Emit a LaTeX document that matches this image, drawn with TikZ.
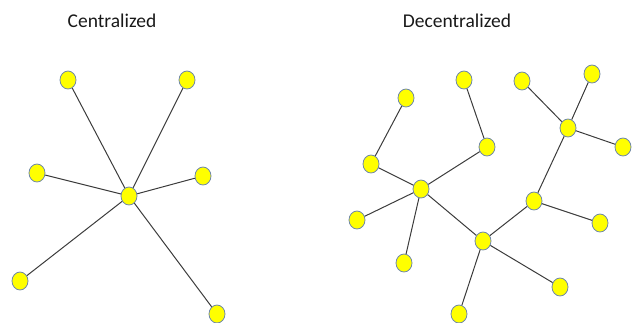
\documentclass[tikz,border=0pt]{standalone}
\usepackage{fontspec}
\setmainfont{Carlito}
\usetikzlibrary{shapes.geometric}
\definecolor{nodeyellow}{RGB}{255,255,0}
\definecolor{nodeedge}{RGB}{110,135,170}
\definecolor{linkgray}{RGB}{60,60,60}
\tikzset{
  peer/.style={ellipse, draw=nodeedge, line width=0.8pt, fill=nodeyellow, minimum width=16pt, minimum height=18pt, inner sep=0pt},
  link/.style={draw=linkgray, line width=1pt},
  heading/.style={font=\fontsize{19.5pt}{22pt}\selectfont, text=black!90}
}
\begin{document}
\begin{tikzpicture}[x=1pt,y=-1pt]
\useasboundingbox (0,0) rectangle (632,322);
\node[heading] (t1) at (112,21) {Centralized};
\node[heading] (t2) at (457,21) {Decentralized};
% centralized
\coordinate (cc) at (129,196);
\node[peer] (c1) at (68,80) {};
\node[peer] (c2) at (187,80) {};
\node[peer] (c3) at (37,173) {};
\node[peer] (c4) at (203,176) {};
\node[peer] (c5) at (20,281) {};
\node[peer] (c6) at (217,314) {};
\foreach \n in {c1,c2,c3,c4,c5,c6} \draw[link] (cc) -- (\n);
\node[peer] (c0) at (cc) {};
% decentralized
\node[peer] (a) at (464,80) {};
\node[peer] (b) at (406,98) {};
\node[peer] (c) at (522,81) {};
\node[peer] (d) at (592,74) {};
\node[peer] (e) at (568,128) {};
\node[peer] (f) at (623,147) {};
\node[peer] (g) at (487,147) {};
\node[peer] (h) at (371,164) {};
\node[peer] (i) at (421,189) {};
\node[peer] (j) at (357,220) {};
\node[peer] (k) at (534,201) {};
\node[peer] (l) at (600,223) {};
\node[peer] (m) at (483,241) {};
\node[peer] (n) at (404,263) {};
\node[peer] (o) at (560,287) {};
\node[peer] (p) at (459,314) {};
\foreach \u/\v in {b/h,h/i,i/g,g/a,i/j,i/n,i/m,m/p,m/o,m/k,k/l,k/e,e/c,e/d,e/f}
  \draw[link] (\u) -- (\v);
\end{tikzpicture}
\end{document}
